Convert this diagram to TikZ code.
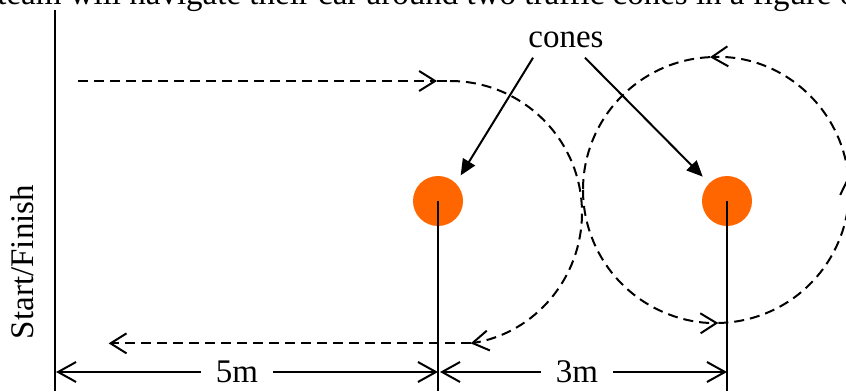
\documentclass[tikz,border=0pt]{standalone}
\usepackage{fontspec}
\setmainfont{Liberation Serif}
\usetikzlibrary{arrows.meta}
\definecolor{coneorange}{RGB}{255,102,0}
\begin{document}
\begin{tikzpicture}
% figure-of-eight course, one unit is one pixel of the sketch
\def\pxsz{0.5pt}
\providecommand{\coneColor}{coneorange}
\providecommand{\courseLineWidth}{1pt}
\providecommand{\startLineWidth}{1.2pt}
\begin{scope}[x=\pxsz, y=\pxsz, font=\fontsize{16.5}{19}\selectfont,
  conedot/.style={circle, fill=\coneColor, minimum size=25pt, inner sep=0pt},
  routeline/.style={line width=\courseLineWidth, dash pattern=on 5pt off 3pt},
  routetip/.style={-{Straight Barb[length=8pt,width=10pt,line width=\courseLineWidth]}},
  dimline/.style={line width=\courseLineWidth, -{Straight Barb[length=9pt,width=10pt,line width=\courseLineWidth]}},
  pointer/.style={line width=\courseLineWidth, -{Triangle[length=8pt,width=7pt]}, shorten >=4.5pt}]
  % Frame of the sketch
  \useasboundingbox (0,0) rectangle (846,391);
  \clip (0,0) rectangle (846,391);
  % Text line cut off above the sketch
  \node[anchor=base west, inner sep=0pt] (intro) at (-3,386) {team will navigate their car around two traffic cones in a figure of};
  % Start line and cones
  \coordinate (base) at (0,0);
  \draw[line width=\startLineWidth] (55,381) -- (55,0);
  \node[rotate=90] (start) at (22,129) {Start/Finish};
  \node[conedot] (cone1) at (438,190) {};
  \node[conedot] (cone2) at (727,190) {};
  \draw[line width=\courseLineWidth] (cone1.center) -- (cone1 |- base);
  \draw[line width=\courseLineWidth] (cone2.center) -- (cone2 |- base);
  % Label and pointers
  \node[anchor=base, inner sep=2pt] (cones) at (566,343) {cones};
  \draw[pointer] ([xshift=4.5pt,yshift=-2.5pt]cones.south west) -- (cone1.north east);
  \draw[pointer] ([xshift=-11.5pt,yshift=-2.5pt]cones.south east) -- (cone2.north west);
  % Route: out, round the first cone, back
  \coordinate (loop1) at (450,178);
  \coordinate (loop2) at (716,201);
  \draw[routeline, routetip] (78,310) -- (437,310);
  \draw[routeline] (437,310) -- ([shift={(90:132)}]loop1);
  \draw[routeline, routetip] ([shift={(90:132)}]loop1) arc[start angle=90, end angle=-81, radius=132];
  \draw[routeline, routetip] ([shift={(-81:132)}]loop1) -- ++(-362,0);
  % Route: loop round the second cone
  \draw[routeline, routetip] ([shift={(180:133)}]loop2) arc[start angle=180, end angle=271, radius=133];
  \draw[routeline, routetip] ([shift={(271:133)}]loop2) arc[start angle=271, end angle=366, radius=133];
  \draw[routeline, routetip] ([shift={(6:133)}]loop2) arc[start angle=6, end angle=92.6, radius=133];
  \draw[routeline] ([shift={(92.6:133)}]loop2) arc[start angle=92.6, end angle=180, radius=133];
  % Distances
  \coordinate (s0) at (56,19);
  \coordinate (c1) at (cone1 |- s0);
  \coordinate (c2) at (cone2 |- s0);
  \node[inner xsep=7.5pt] (len5) at (237,19) {5m};
  \node[inner xsep=7.5pt] (len3) at (577,19) {3m};
  \draw[dimline] (len5) -- (s0);
  \draw[dimline] (len5) -- (c1);
  \draw[dimline] (len3) -- ([xshift=1pt]c1);
  \draw[dimline] (len3) -- (c2);
\end{scope}
\end{tikzpicture}
\end{document}
